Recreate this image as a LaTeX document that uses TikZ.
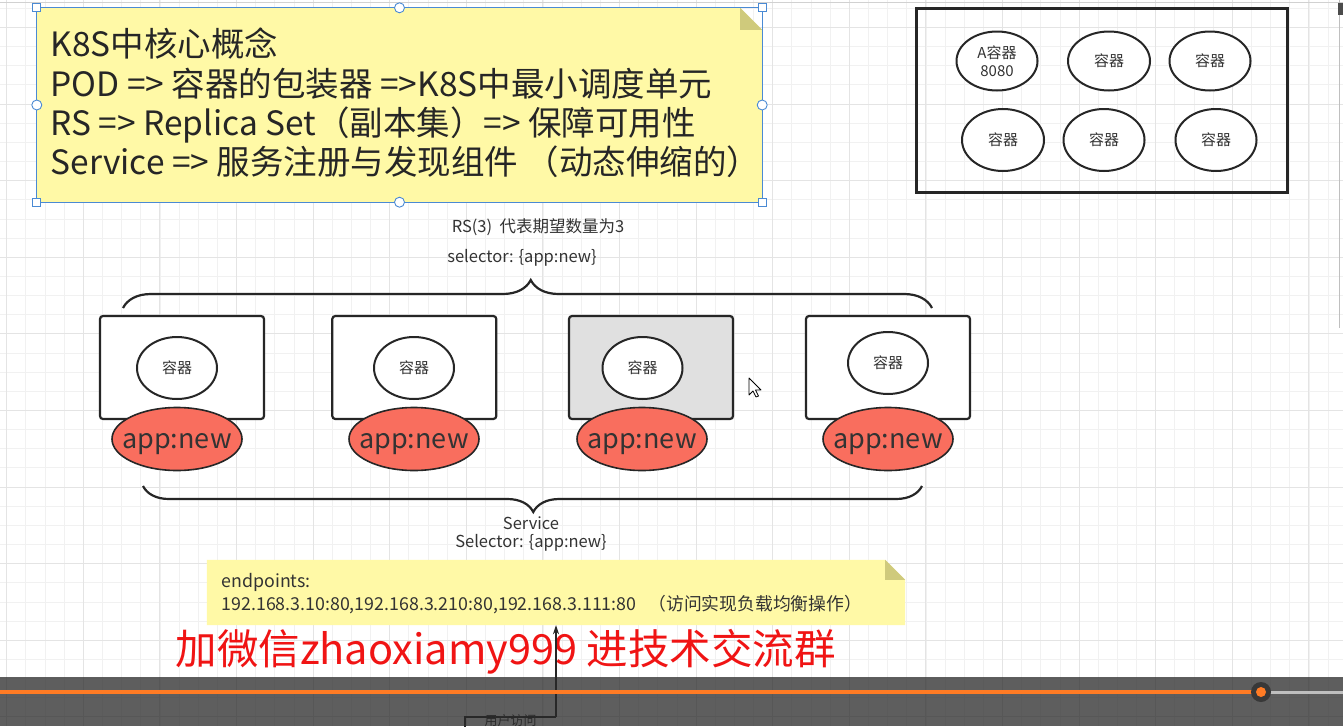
\documentclass[tikz,border=0pt]{standalone}
\usepackage{fontspec}
\setmainfont{Noto Sans CJK SC}
\usetikzlibrary{arrows.meta,calc,shapes.geometric,decorations.pathreplacing}

\definecolor{notefill}{HTML}{FFF9A6}
\definecolor{notefold}{HTML}{CFCA7C}
\definecolor{selblue}{HTML}{4A8AD4}
\definecolor{labelred}{HTML}{F96E5E}
\definecolor{podgray}{HTML}{E0E0E0}
\definecolor{inkdark}{HTML}{262626}
\definecolor{txtdark}{HTML}{333333}
\definecolor{barorange}{HTML}{FF7B24}
\definecolor{gridminor}{HTML}{F1F1F1}
\definecolor{gridmajor}{HTML}{E4E4E4}

\tikzset{
  container/.style={ellipse, draw=inkdark, line width=2pt, fill=white,
    minimum width=80, minimum height=62, inner sep=0pt,
    font=\fontsize{15}{18}\selectfont, text=txtdark, align=center},
  pod/.style={rectangle, draw=inkdark, line width=2.2pt, fill=white,
    rounded corners=3pt, minimum width=164, minimum height=103},
  applabel/.style={ellipse, draw=inkdark, line width=1.6pt, fill=labelred,
    minimum width=130, minimum height=63, inner xsep=-16pt, inner ysep=0pt,
    text height=19pt, text depth=0pt,
    font=\fontsize{27}{29}\selectfont, text=txtdark},
  caption/.style={font=\fontsize{16.5}{19}\selectfont, text=txtdark},
  selsq/.style={rectangle, draw=selblue, fill=white, line width=0.9pt,
    minimum size=8, inner sep=0pt},
  selcirc/.style={circle, draw=selblue, fill=white, line width=0.9pt,
    minimum size=10, inner sep=0pt},
  bracepath/.style={decorate, line width=2.2pt, draw=inkdark}
}

\begin{document}
\begin{tikzpicture}[x=1pt,y=-1pt]

\useasboundingbox (0,0) rectangle (1343,726);
\fill[white] (0,0) rectangle (1343,726);

% Canvas grid
\foreach \i in {0,...,70} \draw[gridminor, line width=0.8pt] ({6.7+19.15*\i},0) -- ++(0,726);
\foreach \i in {0,...,38} \draw[gridminor, line width=0.8pt] (0,{8.25+19.15*\i}) -- ++(1343,0);
\foreach \i in {0,...,17} \draw[gridmajor, line width=0.9pt] ({6.7+76.6*\i},0) -- ++(0,726);
\foreach \i in {0,...,9} \draw[gridmajor, line width=0.9pt] (0,{27.4+76.6*\i}) -- ++(1343,0);
\draw[black!18, line width=1pt] (0,2) -- (1343,2);
\draw[black!25, line width=1pt] (1339,0) -- (1339,328);
\fill[black!70] (1338,3) rectangle (1343,15);

% Core concepts note
\path node[minimum width=725, minimum height=194, inner sep=0pt] (corenote) at (399.5,105) {};
\fill[notefill] (corenote.south west) -- (corenote.north west)
  -- ($(corenote.north east)+(-22,0)$) -- ($(corenote.north east)+(0,22)$)
  -- (corenote.south east) -- cycle;
\fill[notefold] ($(corenote.north east)+(-22,0)$) -- ($(corenote.north east)+(-22,22)$)
  -- ($(corenote.north east)+(0,22)$) -- cycle;
\node[anchor=west, align=left, text=black!85, font=\fontsize{33.5}{39.3}\selectfont] (core) at (47,103)
  {K8S中核心概念\\POD => 容器的包装器 =>K8S中最小调度单元\\RS => Replica Set（副本集）=> 保障可用性\\Service => 服务注册与发现组件 （动态伸缩的）};

% Selection frame
\draw[selblue, line width=0.9pt] (corenote.south west) rectangle (corenote.north east);
\foreach \a in {north west,north east,south west,south east} \node[selsq] at (corenote.\a) {};
\foreach \a in {north,south,east,west} \node[selcirc] at (corenote.\a) {};

% Node with containers
\node[draw=inkdark, line width=3pt, minimum width=371, minimum height=184] (nodebox) at (1101.5,100) {};
\node[container, minimum width=81, minimum height=59] (c1) at (997,61) {A容器\\8080};
\node[container, minimum width=82, minimum height=59] (c2) at (1109,61) {容器};
\node[container, minimum width=81, minimum height=59] (c3) at (1210,61) {容器};
\node[container, minimum width=82, minimum height=62] (c4) at (1003,140) {容器};
\node[container, minimum width=81, minimum height=62] (c5) at (1104,140) {容器};
\node[container, minimum width=81, minimum height=62] (c6) at (1216,140) {容器};

% Replica set
\node[caption] (rs) at (538,227) {RS(3)\ \ 代表期望数量为3};
\node[caption] (rssel) at (522,258) {selector: \{app:new\}};
\coordinate (rsleft) at (123,308);
\coordinate (rsright) at (932,308);
\draw[bracepath, decoration={brace, amplitude=28pt, aspect=0.504}] (rsleft) -- (rsright);

% Pods
\node[pod] (p1) at (182,367.5) {};
\node[pod] (p2) at (414.3,367.5) {};
\node[pod, fill=podgray] (p3) at (651,367.5) {};
\node[pod] (p4) at (888,367.5) {};

\node[container] (ctr1) at (177,368) {容器};
\node[container] (ctr2) at (414,368) {容器};
\node[container] (ctr3) at (642.5,368) {容器};
\node[container] (ctr4) at (888,363) {容器};

\node[applabel] (lbl1) at (177,439) {app:new};
\node[applabel] (lbl2) at (414,439) {app:new};
\node[applabel] (lbl3) at (642,439) {app:new};
\node[applabel] (lbl4) at (888,439) {app:new};

% Mouse pointer
\draw[black, fill=white, line width=0.8pt, line join=round] (749,378) -- (749,395) -- (753,391)
  -- (756,397) -- (758.5,396) -- (755.5,390) -- (761,390) -- cycle;

% Service
\coordinate (svcleft) at (143,486);
\coordinate (svcright) at (922,486);
\draw[bracepath, decoration={brace, amplitude=26pt, aspect=0.499}] (svcright) -- (svcleft);
\node[caption] (svc) at (531,523) {Service};
\node[caption] (svcsel) at (531,543) {Selector: \{app:new\}};

% Endpoints note
\path node[minimum width=698, minimum height=65, inner sep=0pt] (epnote) at (556,592.5) {};
\fill[notefill] (epnote.south west) -- (epnote.north west)
  -- ($(epnote.north east)+(-20,0)$) -- ($(epnote.north east)+(0,20)$)
  -- (epnote.south east) -- cycle;
\fill[notefold] ($(epnote.north east)+(-20,0)$) -- ($(epnote.north east)+(-20,20)$)
  -- ($(epnote.north east)+(0,20)$) -- cycle;
\node[anchor=west, align=left, text=txtdark, font=\fontsize{17.8}{23}\selectfont] (ep) at (218,593.5)
  {endpoints:\\192.168.3.10:80,192.168.3.210:80,192.168.3.111:80\ \ \ （访问实现负载均衡操作）};

% Watermark
\node[anchor=west, text={rgb,255:red,240;green,20;blue,20}, font=\fontsize{41.5}{44}\selectfont] (wx) at (172,652)
  {加微信zhaoxiamy999 进技术交流群};

% User access
\draw[inkdark, line width=1.2pt] (465,730) |- (556,717);
\node[anchor=center, inner sep=0pt, text=txtdark, font=\fontsize{13}{14}\selectfont] (user) at (510.5,720.5) {用户访问};
\coordinate (usertop) at (556,717);
\draw[-{Stealth[length=9pt,width=6pt]}, line width=1.2pt, inkdark] (usertop) -- (epnote.south);

% Player bar
\fill[black!84, opacity=0.75] (0,677) rectangle (1343,726);
\draw[barorange, line width=3.5pt] (0,692) -- (1261,692);
\draw[black!25, line width=3pt] (1261,692) -- (1343,692);
\fill[black!78] (1261,692) circle (10);
\fill[barorange] (1261,692) circle (5);

\end{tikzpicture}
\end{document}
